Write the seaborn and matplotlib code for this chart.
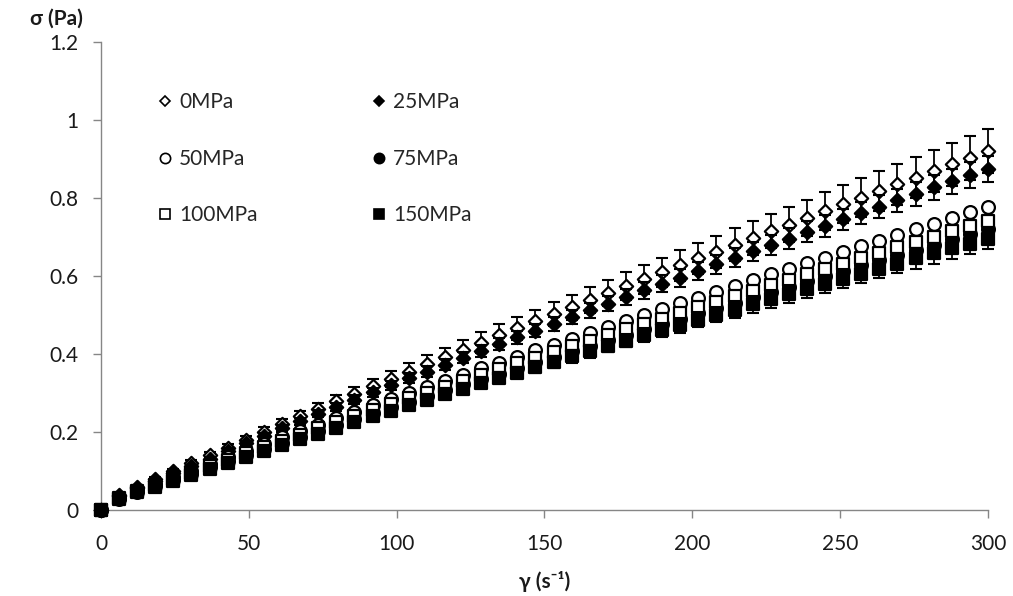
import numpy as np
import pandas as pd
import seaborn as sns
import matplotlib.pyplot as plt
from matplotlib.lines import Line2D

# shear rate (1/s)
gamma = [0, 6.12, 12.24, 18.37, 24.49, 30.61, 36.73, 42.86, 48.98, 55.10,
         61.22, 67.35, 73.47, 79.59, 85.71, 91.84, 97.96, 104.08, 110.20, 116.33,
         122.45, 128.57, 134.69, 140.82, 146.94, 153.06, 159.18, 165.31, 171.43, 177.55,
         183.67, 189.80, 195.92, 202.04, 208.16, 214.29, 220.41, 226.53, 232.65, 238.78,
         244.90, 251.02, 257.14, 263.27, 269.39, 275.51, 281.63, 287.76, 293.88, 300.0]

# shear stress (Pa) for each pressure
s0 = [0, 0.038, 0.060, 0.080, 0.100, 0.120, 0.140, 0.160, 0.180, 0.200,
      0.220, 0.240, 0.259, 0.279, 0.298, 0.317, 0.336, 0.355, 0.374, 0.392,
      0.411, 0.429, 0.448, 0.466, 0.484, 0.502, 0.520, 0.538, 0.556, 0.574,
      0.592, 0.609, 0.627, 0.645, 0.662, 0.680, 0.697, 0.715, 0.732, 0.749,
      0.767, 0.784, 0.801, 0.818, 0.835, 0.852, 0.869, 0.886, 0.903, 0.920]
s25 = [0, 0.035, 0.056, 0.075, 0.094, 0.112, 0.132, 0.152, 0.171, 0.190,
       0.209, 0.228, 0.247, 0.265, 0.283, 0.302, 0.320, 0.338, 0.355, 0.373,
       0.391, 0.408, 0.426, 0.443, 0.460, 0.478, 0.495, 0.512, 0.529, 0.546,
       0.563, 0.580, 0.596, 0.613, 0.630, 0.647, 0.663, 0.680, 0.696, 0.713,
       0.729, 0.745, 0.762, 0.778, 0.794, 0.811, 0.827, 0.843, 0.859, 0.875]
s50 = [0, 0.031, 0.050, 0.067, 0.084, 0.100, 0.117, 0.135, 0.152, 0.169,
       0.186, 0.203, 0.219, 0.235, 0.252, 0.268, 0.284, 0.300, 0.316, 0.331,
       0.347, 0.363, 0.378, 0.393, 0.409, 0.424, 0.439, 0.455, 0.470, 0.485,
       0.500, 0.515, 0.530, 0.544, 0.559, 0.574, 0.589, 0.604, 0.618, 0.633,
       0.647, 0.662, 0.676, 0.691, 0.705, 0.720, 0.734, 0.749, 0.763, 0.777]
s75 = [0, 0.029, 0.047, 0.062, 0.078, 0.092, 0.109, 0.125, 0.141, 0.157,
       0.172, 0.188, 0.203, 0.218, 0.233, 0.248, 0.263, 0.278, 0.292, 0.307,
       0.322, 0.336, 0.350, 0.365, 0.379, 0.393, 0.407, 0.421, 0.435, 0.449,
       0.463, 0.477, 0.491, 0.505, 0.518, 0.532, 0.546, 0.559, 0.573, 0.586,
       0.600, 0.613, 0.627, 0.640, 0.654, 0.667, 0.680, 0.694, 0.707, 0.720]
s100 = [0, 0.030, 0.048, 0.064, 0.080, 0.095, 0.112, 0.129, 0.145, 0.162,
        0.178, 0.193, 0.209, 0.225, 0.240, 0.256, 0.271, 0.286, 0.301, 0.316,
        0.331, 0.346, 0.361, 0.376, 0.390, 0.405, 0.420, 0.434, 0.449, 0.463,
        0.477, 0.491, 0.506, 0.520, 0.534, 0.548, 0.562, 0.576, 0.590, 0.604,
        0.618, 0.632, 0.646, 0.660, 0.674, 0.687, 0.701, 0.715, 0.728, 0.742]
s150 = [0, 0.027, 0.045, 0.060, 0.075, 0.089, 0.105, 0.121, 0.136, 0.151,
        0.167, 0.181, 0.196, 0.211, 0.225, 0.240, 0.254, 0.268, 0.283, 0.297,
        0.311, 0.325, 0.339, 0.352, 0.366, 0.380, 0.394, 0.407, 0.421, 0.434,
        0.448, 0.461, 0.474, 0.488, 0.501, 0.514, 0.527, 0.541, 0.554, 0.567,
        0.580, 0.593, 0.606, 0.619, 0.632, 0.645, 0.658, 0.671, 0.683, 0.696]

# standard deviations (only visible ones)
e0 = [0, .002, .004, .005, .006, .007, .009, .010, .011, .012,
      .014, .015, .016, .017, .018, .020, .021, .022, .023, .024,
      .025, .027, .028, .029, .030, .031, .032, .033, .034, .036,
      .037, .038, .039, .040, .041, .042, .043, .044, .045, .046,
      .048, .049, .050, .051, .052, .053, .054, .055, .056, .057]
e25 = [0, .001, .002, .003, .004, .004, .005, .006, .006, .007,
       .008, .009, .009, .010, .011, .011, .012, .013, .013, .014,
       .015, .016, .016, .017, .017, .018, .019, .019, .020, .021,
       .021, .022, .023, .023, .024, .025, .025, .026, .026, .027,
       .028, .028, .029, .030, .030, .031, .031, .032, .033, .033]
e150 = [0, .001, .002, .002, .003, .004, .004, .005, .005, .006,
        .007, .007, .008, .008, .009, .010, .010, .011, .011, .012,
        .012, .013, .014, .014, .015, .015, .016, .016, .017, .017,
        .018, .018, .019, .020, .020, .021, .021, .022, .022, .023,
        .023, .024, .024, .025, .025, .026, .026, .027, .027, .028]

labels = ["0MPa", "25MPa", "50MPa", "75MPa", "100MPa", "150MPa"]

sns.set_style("ticks")
plt.rcParams['font.family'] = ['Lato', 'DejaVu Sans']

fig = plt.figure(figsize=(10.13, 5.96), dpi=100)
ax = fig.add_axes([0.0997, 0.1443, 0.8756, 0.7852])

series = [
    (s0, e0, "D", "white", 46),
    (s25, e25, "D", "black", 46),
    (s50, None, "o", "white", 85),
    (s75, None, "o", "black", 85),
    (s100, None, "s", "white", 72),
    (s150, e150, "s", "black", 72),
]

for i, (vals, err, mk, fc, sz) in enumerate(series):
    df = pd.DataFrame({"gamma": gamma, "sigma": vals})
    if err is not None:
        ax.errorbar(gamma, vals, yerr=err, fmt="none", ecolor="black",
                    elinewidth=1.3, capsize=4.5, capthick=1.5, zorder=2 + 2 * i,
                    clip_on=False)
    sns.scatterplot(data=df, x="gamma", y="sigma", marker=mk, s=sz,
                    facecolor=fc, edgecolor="black", linewidth=1.6,
                    zorder=3 + 2 * i, clip_on=False, ax=ax)

ax.set_xlim(0, 300)
ax.set_ylim(0, 1.2)
ax.set_xticks([0, 50, 100, 150, 200, 250, 300])
ax.set_yticks([0, 0.2, 0.4, 0.6, 0.8, 1, 1.2])
ax.set_yticklabels(["0", "0.2", "0.4", "0.6", "0.8", "1", "1.2"])
ax.set_xlabel("")
ax.set_ylabel("")
for side in ["top", "right"]:
    ax.spines[side].set_visible(False)
for side in ["left", "bottom"]:
    ax.spines[side].set_color("#868686")
    ax.spines[side].set_linewidth(1.0)
ax.tick_params(axis="both", colors="#868686", labelcolor="#1a1a1a",
               labelsize=15, length=6, width=1.0, direction="out")
ax.tick_params(axis="x", pad=11)
ax.tick_params(axis="y", pad=10)

# legend: two columns
order = [0, 2, 4, 1, 3, 5]
handles = []
for i in order:
    vals, err, mk, fc, sz = series[i]
    handles.append(Line2D([], [], linestyle="none", marker=mk,
                          markersize=np.sqrt(sz) * 0.8, markerfacecolor=fc,
                          markeredgecolor="black", markeredgewidth=1.2,
                          label=labels[i]))
ax.legend(handles=handles, ncol=2, frameon=False, loc="upper left",
          bbox_to_anchor=(0.055, 0.91), fontsize=15, labelspacing=1.75,
          handlelength=0.7, handletextpad=0.3, columnspacing=5.5,
          borderaxespad=0)

fig.text(0.056, 0.968, "σ (Pa)", fontsize=15, fontweight="bold",
         ha="center", va="center", color="#1a1a1a")
fig.text(0.538, 0.024, "γ (s⁻¹)", fontsize=15, fontweight="bold",
         ha="center", va="center", color="#1a1a1a")

plt.savefig("out.png", dpi=100)
